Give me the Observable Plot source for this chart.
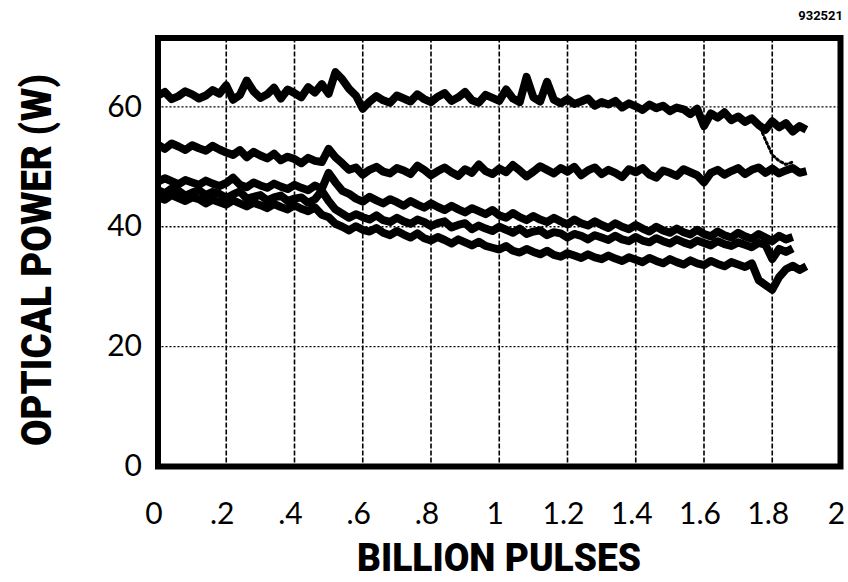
<!DOCTYPE html>
<html>
<head>
<meta charset="utf-8">
<script src="https://cdn.jsdelivr.net/npm/d3@7"></script>
<script src="https://cdn.jsdelivr.net/npm/@observablehq/plot@0.6"></script>
<style>
  html, body { margin: 0; padding: 0; background: #fff; }
  #chart { width: 848px; height: 582px; }
</style>
</head>
<body>
<div id="chart"></div>
<script>
// Pulses (billions)
const pulses = [0,0.02,0.04,0.06,0.08,0.10,0.12,0.14,0.16,0.18,0.20,0.22,0.24,0.26,0.28,0.30,0.32,0.34,0.36,0.38,0.40,0.42,0.44,0.46,0.48,0.50,0.52,0.54,0.56,0.58,0.60,0.62,0.64,0.66,0.68,0.70,0.72,0.74,0.76,0.78,0.80,0.82,0.84,0.86,0.88,0.90,0.92,0.94,0.96,0.98,1.00,1.02,1.04,1.06,1.08,1.10,1.12,1.14,1.16,1.18,1.20,1.22,1.24,1.26,1.28,1.30,1.32,1.34,1.36,1.38,1.40,1.42,1.44,1.46,1.48,1.50,1.52,1.54,1.56,1.58,1.60,1.62,1.64,1.66,1.68,1.70,1.72,1.74,1.76,1.78,1.80,1.82,1.84,1.86,1.88,1.90];

// Optical power (W) of each trace
const trace1 = [61.9,62.5,61.3,61.8,62.6,62.1,61.4,61.9,62.8,62.2,63.6,61.2,62.0,64.4,62.6,61.5,62.1,63.2,61.4,62.9,62.3,61.6,63.3,62.4,63.8,62.2,65.8,64.6,63.0,61.9,59.7,60.9,61.8,61.1,60.7,61.9,61.4,60.9,62.1,61.3,60.8,61.7,62.3,61.0,61.6,62.5,61.1,60.7,62.0,61.5,61.0,62.9,61.4,60.8,65.0,61.6,60.9,64.2,61.2,60.6,61.3,60.5,60.9,61.4,60.2,60.8,60.4,61.0,59.9,60.6,60.1,59.5,60.4,59.8,60.2,59.3,59.9,59.6,58.8,59.7,56.8,58.9,58.2,59.1,57.8,58.4,57.5,58.1,57.0,56.2,57.6,56.6,57.3,55.9,56.8,56.2];
const trace2 = [53.7,53.0,53.9,53.4,52.8,53.6,53.1,52.7,53.5,52.9,52.4,52.0,52.8,51.6,52.5,51.9,51.4,52.2,51.1,51.7,51.3,50.6,51.5,51.0,50.8,53.0,51.6,50.6,49.5,49.9,48.7,49.5,50.0,49.2,48.9,49.8,49.4,48.8,50.2,49.5,48.6,49.3,49.9,49.1,48.5,49.6,49.0,50.4,49.3,48.8,49.7,49.1,50.3,49.4,48.4,49.2,50.1,49.5,48.9,49.8,49.2,50.0,48.6,49.4,49.9,48.8,49.5,49.0,48.3,49.6,49.1,49.8,48.7,48.2,49.4,49.0,48.5,49.6,49.1,48.6,47.4,49.0,49.5,48.7,49.3,49.8,48.8,49.5,49.9,49.0,49.7,48.9,49.4,49.8,49.0,49.3];
const trace3 = [47.5,48.1,47.6,47.1,47.8,47.4,47.0,47.7,47.2,46.8,47.3,48.2,47.0,46.6,47.4,46.9,46.5,47.2,46.7,46.3,47.0,46.5,46.1,46.9,46.3,49.0,47.4,46.0,45.5,44.7,44.2,45.0,44.4,43.9,44.6,44.1,43.5,44.3,43.7,43.2,43.9,43.3,42.8,43.5,42.9,42.4,43.1,42.6,42.1,42.8,41.9,41.5,42.3,41.6,41.1,41.8,41.2,40.8,41.5,40.9,40.4,41.2,40.6,40.2,40.9,40.3,39.8,40.6,40.0,39.6,40.3,39.7,39.2,40.0,39.4,39.0,39.7,39.1,38.7,39.5,38.8,38.4,39.2,38.6,38.2,39.0,38.4,38.0,38.8,38.2,37.6,38.5,37.9,38.3];
const trace4 = [46.1,45.6,46.4,46.0,45.2,45.7,46.1,45.3,45.8,45.5,44.8,45.4,45.9,44.7,45.0,45.3,44.4,44.9,45.2,44.3,44.7,44.9,44.0,44.6,46.0,44.3,42.9,42.2,41.5,42.1,41.6,41.2,41.9,41.1,40.8,41.5,40.9,40.5,41.2,40.8,40.1,40.6,40.9,39.9,40.3,40.6,39.6,40.2,39.7,39.3,40.0,39.5,39.0,39.7,38.8,39.2,39.4,38.6,39.1,38.9,38.2,38.8,38.5,37.9,38.6,38.2,37.8,38.5,37.9,37.6,38.3,37.7,37.4,38.1,37.6,37.2,37.9,37.4,37.0,37.7,37.3,36.9,37.6,37.1,36.8,37.4,37.0,36.6,37.3,37.0,34.6,36.3,35.8,36.4];
const trace5 = [45.0,44.5,45.3,44.8,44.3,44.9,44.6,43.9,44.5,44.1,43.7,44.4,43.9,43.4,44.0,43.6,43.1,43.8,43.3,42.9,43.6,43.0,42.6,43.2,42.0,41.6,40.5,40.0,39.4,40.1,39.5,39.2,39.8,39.0,38.6,39.3,38.7,38.2,38.9,38.1,37.7,38.3,37.8,37.2,37.9,37.4,36.9,37.5,36.8,36.5,36.2,36.8,36.0,35.7,36.3,35.8,35.4,36.0,35.3,35.0,35.6,35.2,34.8,35.4,34.9,34.6,35.2,34.7,34.3,34.9,34.5,34.1,34.8,34.3,33.9,34.6,34.1,33.7,34.4,33.9,33.6,34.3,33.8,33.4,34.1,33.7,33.3,33.9,31.1,30.3,29.5,31.6,32.9,33.5,32.8,33.4];
// short falling segment near 1.8 billion pulses
const dropPulses = [1.76,1.78,1.80,1.82,1.84,1.86];
const dropTrace = [57.2,54.5,52.0,51.0,50.4,50.8];

const xTicks = [0,0.2,0.4,0.6,0.8,1,1.2,1.4,1.6,1.8,2];
const yTicks = [0,20,40,60];
const xGrid = [0.2,0.4,0.6,0.8,1,1.2,1.4,1.6,1.8];
const yGrid = [20,40,60];

const traces = [trace1, trace2, trace3, trace4, trace5];
const rows = [];
traces.forEach((t, k) => t.forEach((v, i) => rows.push({x: pulses[i], y: v, s: "t" + (k + 1)})));
const dropRows = dropTrace.map((v, i) => ({x: dropPulses[i], y: v}));

const fmt = d => d === 0 ? "0" : (d < 1 ? String(d).replace(/^0/, "") : String(d));

const chart = Plot.plot({
  width: 848,
  height: 582,
  marginLeft: 157.5,
  marginRight: 8,
  marginTop: 37.5,
  marginBottom: 116,
  style: {fontFamily: "Lato, 'DejaVu Sans', sans-serif", background: "#fff", color: "#000"},
  x: {domain: [0, 2]},
  y: {domain: [0, 71.5]},
  marks: [
    Plot.gridX(xGrid, {stroke: "#000", strokeOpacity: 1, strokeWidth: 1.6, strokeDasharray: "5,2"}),
    Plot.gridY(yGrid, {stroke: "#000", strokeOpacity: 1, strokeWidth: 1.4, strokeDasharray: "2,2"}),
    Plot.line(rows, {x: "x", y: "y", z: "s", stroke: "#000", strokeWidth: 8, strokeLinejoin: "round", strokeLinecap: "butt"}),
    Plot.line(dropRows, {x: "x", y: "y", stroke: "#000", strokeWidth: 3, strokeDasharray: "2,3"}),
    Plot.frame({stroke: "#000", strokeWidth: 6}),
    Plot.axisX(xTicks, {tickSize: 0, tickPadding: 36, fontSize: 30, tickFormat: fmt, dx: -4, label: null}),
    Plot.axisY(yTicks, {tickSize: 0, tickPadding: 16, fontSize: 30, label: null})
  ]
});

const svg = d3.select(chart);
svg.append("text")
  .attr("transform", "translate(51,260) rotate(-90)")
  .attr("text-anchor", "middle")
  .attr("font-family", "Roboto, 'DejaVu Sans', sans-serif")
  .attr("font-weight", 900)
  .attr("font-size", 42)
  .attr("textLength", 372)
  .attr("lengthAdjust", "spacingAndGlyphs")
  .attr("fill", "#000")
  .text("OPTICAL POWER (W)");
svg.append("text")
  .attr("x", 499)
  .attr("y", 571)
  .attr("text-anchor", "middle")
  .attr("font-family", "Roboto, 'DejaVu Sans', sans-serif")
  .attr("font-weight", 900)
  .attr("font-size", 38)
  .attr("textLength", 284)
  .attr("lengthAdjust", "spacingAndGlyphs")
  .attr("fill", "#000")
  .text("BILLION PULSES");
svg.append("text")
  .attr("x", 843)
  .attr("y", 20)
  .attr("text-anchor", "end")
  .attr("font-family", "Roboto, 'DejaVu Sans', sans-serif")
  .attr("font-weight", 700)
  .attr("font-size", 13)
  .attr("fill", "#000")
  .text("932521");

document.getElementById("chart").appendChild(chart);
</script>
</body>
</html>
